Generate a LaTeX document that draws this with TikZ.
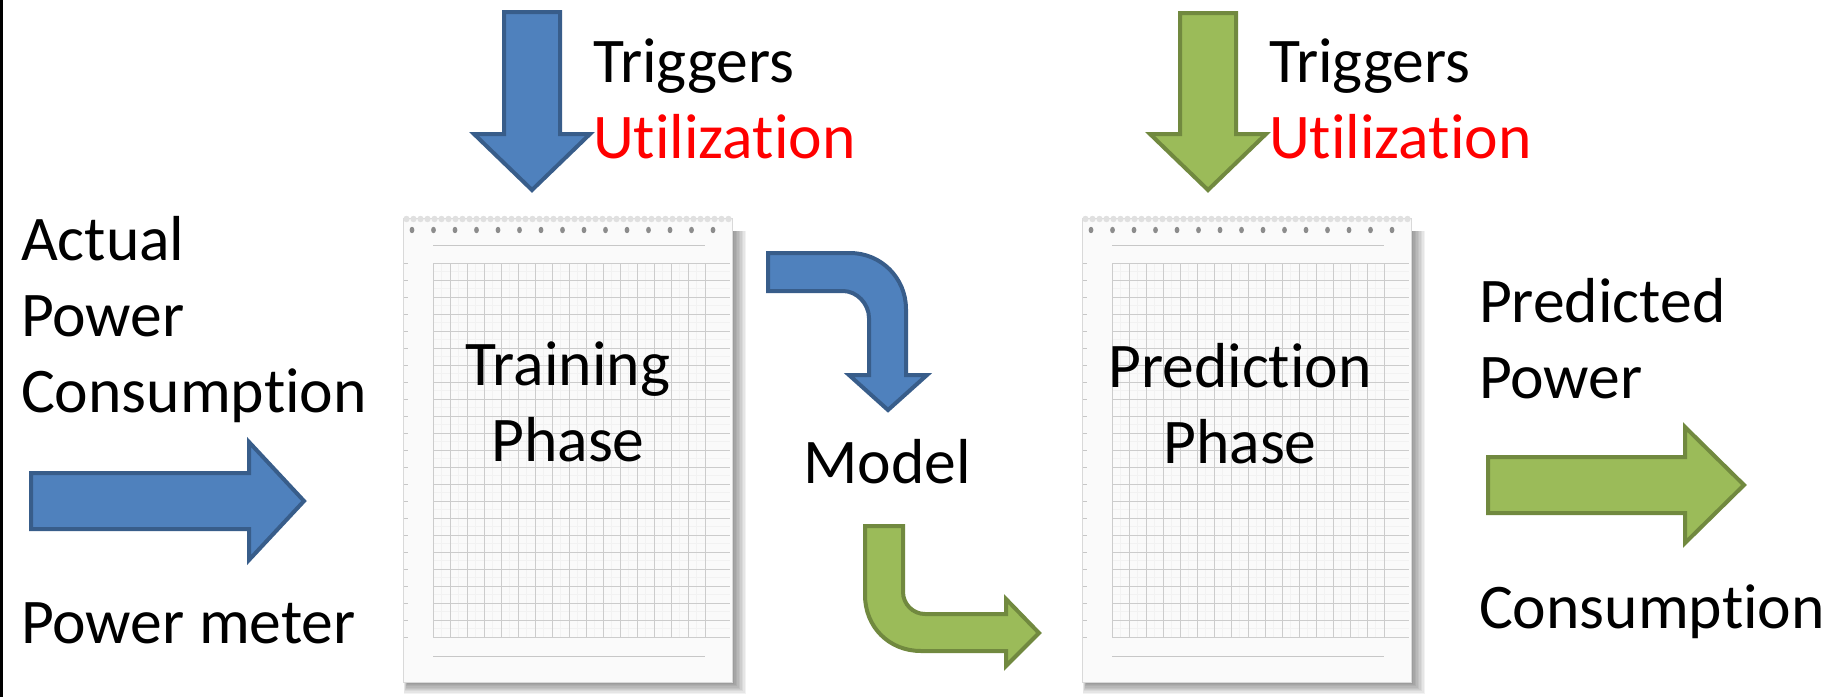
\documentclass[tikz,border=0pt]{standalone}
\usepackage{fontspec}
\setmainfont{Carlito}[RawFeature={-liga;-clig;-dlig;-calt}]
\definecolor{arrowblue}{HTML}{4F81BD}
\definecolor{arrowblueline}{HTML}{385D8A}
\definecolor{arrowgreen}{HTML}{9BBB59}
\definecolor{arrowgreenline}{HTML}{71893F}
\definecolor{utilred}{HTML}{FF0000}
% keeps t and i as separate letters
\newcommand{\tisep}{\kern0pt}
\tikzset{
  lbl/.style={inner sep=0pt, outer sep=0pt, font=\fontsize{31.8}{38}\selectfont, anchor=base west},
  clbl/.style={lbl, anchor=base},
  bluearrow/.style={fill=arrowblue, draw=arrowblueline, line width=2pt, line join=miter, miter limit=10},
  greenarrow/.style={fill=arrowgreen, draw=arrowgreenline, line width=2pt, line join=miter, miter limit=10},
  gridmajor/.style={draw=black!20, line width=0.35pt},
  gridminor/.style={draw=black!5, line width=0.25pt},
  % spiral notepad sheet with squared paper, origin at its top-left corner
  notepad/.pic={
    \foreach \s in {1,...,10}
      \fill[black, opacity=0.05] (5-\s*0.4, 18) rectangle (328+\s*1.5, 468+\s*1.3);
    \fill[black!2] (0,5) rectangle (329,469);
    \draw[black!15, line width=0.3pt] (0,5) rectangle (329,469);
    \foreach \i in {0,...,46}
      \fill[black!12] (\i*7+3.5, 6) circle (3.2);
    \foreach \k in {0,...,14}
      \fill[black!45] (9+\k*21.5, 17) ellipse (2.4 and 3.2);
    \draw[black!22, line width=0.4pt] (30,32) -- (302,32);
    \draw[black!22, line width=0.4pt] (30,443) -- (302,443);
    \foreach \k in {0,...,15}
      \draw[gridminor] (38.5+\k*17, 50) -- (38.5+\k*17, 424);
    \foreach \k in {0,...,21}
      \draw[gridminor] (30, 58.5+\k*17) -- (327, 58.5+\k*17);
    \foreach \k in {0,...,16}
      \draw[gridmajor] (30+\k*17, 50) -- (30+\k*17, 424);
    \foreach \k in {0,...,22}
      \draw[gridmajor] (30, 50+\k*17) -- (327, 50+\k*17);
    \foreach \k in {0,...,22}
      \draw[black!22, line width=0.4pt] (1, 50+\k*17) -- (5, 50+\k*17);
  }
}
\begin{document}
\begin{tikzpicture}[x=0.5pt, y=-0.5pt]
\useasboundingbox (0,0) rectangle (1837,697);
\fill[white] (0,0) rectangle (1837,697);
\draw[black, line width=1.2pt] (1.5,0) -- (1.5,697);

% the two notepad sheets
\pic (trainpad) at (403,213) {notepad};
\pic (predpad) at (1082,213) {notepad};

% block arrows
\path[bluearrow] (31,473) -- (249,473) -- (249,442) -- (304,501) -- (249,560) -- (249,529) -- (31,529) -- cycle;
\path[bluearrow] (504,12) -- (560,12) -- (560,134) -- (590,134) -- (532,190) -- (474,134) -- (504,134) -- cycle;
\path[greenarrow] (1180,13) -- (1236,13) -- (1236,134) -- (1266,134) -- (1208,190) -- (1150,134) -- (1180,134) -- cycle;
\path[greenarrow] (1488,457) -- (1685,457) -- (1685,427) -- (1744,485) -- (1685,543) -- (1685,513) -- (1488,513) -- cycle;

% bent arrows around the model
\path[bluearrow] (768,253) -- (850,253) .. controls (881,253) and (906,278) .. (906,309)
  -- (906,375) -- (927,375) -- (888,410) -- (849,375) -- (869,375) -- (869,318)
  .. controls (869,304) and (857,291) .. (843,291) -- (768,291) -- cycle;
\path[greenarrow] (865,526) -- (903,526) -- (903,592) .. controls (903,604) and (913,614) .. (925,614)
  -- (1006,614) -- (1006,599) -- (1039,633) -- (1006,666) -- (1006,651) -- (921,651)
  .. controls (889,651) and (865,627) .. (865,595) -- cycle;

% labels
\node[lbl] (trig1) at (593,82) {Triggers};
\node[lbl, text=utilred] (util1) at (593,158) {Utilizat\tisep ion};
\node[lbl] (trig2) at (1269,82) {Triggers};
\node[lbl, text=utilred] (util2) at (1269,158) {Utilizat\tisep ion};

\node[lbl] (act1) at (21,260) {Actual};
\node[lbl] (act2) at (21,336) {Power};
\node[lbl] (act3) at (21,412) {Consumpt\tisep ion};
\node[lbl] (meter) at (21,643) {Power meter};

\node[clbl] (train1) at (568,385) {Training};
\node[clbl] (train2) at (568,461) {Phase};
\node[clbl] (pred1) at (1240,387) {Predict\tisep ion};
\node[clbl] (pred2) at (1240,463) {Phase};

\node[clbl] (model) at (887,483) {Model};

\node[lbl] (out1) at (1479,322) {Predicted};
\node[lbl] (out2) at (1479,398) {Power};
\node[lbl] (out3) at (1479,628) {Consumpt\tisep ion};
\end{tikzpicture}
\end{document}
